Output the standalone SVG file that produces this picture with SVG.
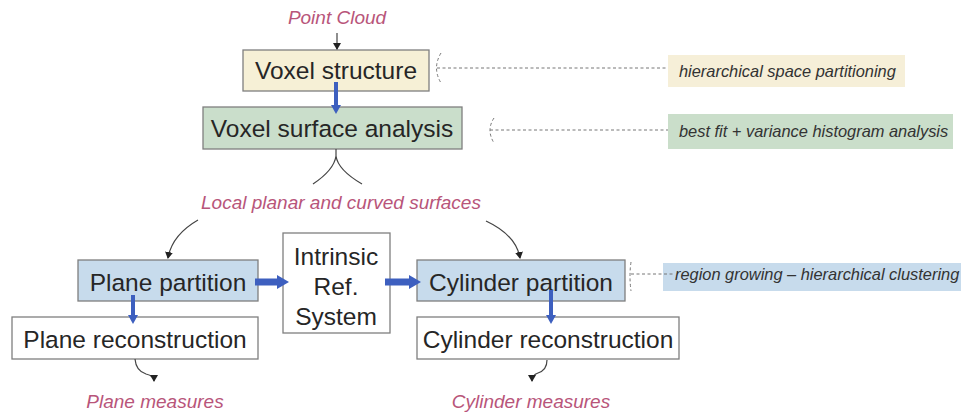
<svg xmlns="http://www.w3.org/2000/svg" width="961" height="416" viewBox="0 0 961 416">
<style>
.box{stroke:#7f7f7f;stroke-width:1.3}
.t{font-family:"Liberation Sans",Arial,sans-serif;font-size:24.5px;fill:#262626;text-anchor:middle}
.it{font-family:"Liberation Sans",Arial,sans-serif;font-style:italic;font-size:19px;fill:#b8557a;text-anchor:middle}
.note{font-family:"Liberation Sans",Arial,sans-serif;font-style:italic;font-size:16.4px;fill:#333}
.thin{fill:none;stroke:#444;stroke-width:1.2}
.blue{stroke:#3d5fbf;stroke-width:4;fill:none}
.bluethick{stroke:#3d5fbf;stroke-width:7;fill:none}
.dash{fill:none;stroke:#777;stroke-width:1;stroke-dasharray:3 2.5}
</style>
<defs>
<marker id="ah" markerWidth="8" markerHeight="8" refX="6" refY="4" orient="auto" markerUnits="userSpaceOnUse">
<path d="M0,0 L7,4 L0,8 z" fill="#222"/>
</marker>
<marker id="bh" markerWidth="10" markerHeight="10" refX="2" refY="5" orient="auto" markerUnits="userSpaceOnUse">
<path d="M0,0 L9,5 L0,10 z" fill="#3d5fbf"/>
</marker>
<marker id="bh2" markerWidth="14" markerHeight="14" refX="1" refY="7" orient="auto" markerUnits="userSpaceOnUse">
<path d="M0,0 L12,7 L0,14 z" fill="#3d5fbf"/>
</marker>
</defs>
<rect width="961" height="416" fill="#fff"/>

<g id="point-cloud"><text class="it" x="337" y="24">Point Cloud</text></g>

<g id="voxel-structure">
<rect class="box" x="243" y="50" width="186" height="41" fill="#f6f0d6"/>
<text class="t" x="336" y="79">Voxel structure</text>
</g>
<g id="voxel-surface">
<rect class="box" x="203" y="107" width="259" height="42" fill="#cadecb"/>
<text class="t" x="332" y="137">Voxel surface analysis</text>
</g>
<g id="local-surfaces"><text class="it" x="341" y="209">Local planar and curved surfaces</text></g>

<g id="plane-partition">
<rect class="box" x="78" y="260" width="180" height="41" fill="#c7dbec"/>
<text class="t" x="168" y="291">Plane partition</text>
</g>
<g id="intrinsic">
<rect class="box" x="283" y="233" width="107" height="100" fill="#fff"/>
<text class="t" x="336" y="265">Intrinsic</text>
<text class="t" x="336" y="295">Ref.</text>
<text class="t" x="336" y="325">System</text>
</g>
<g id="cylinder-partition">
<rect class="box" x="417" y="260" width="208" height="41" fill="#c7dbec"/>
<text class="t" x="521" y="291">Cylinder partition</text>
</g>
<g id="plane-reconstruction">
<rect class="box" x="12" y="317" width="246" height="42" fill="#fff"/>
<text class="t" x="135" y="348">Plane reconstruction</text>
</g>
<g id="cylinder-reconstruction">
<rect class="box" x="417" y="317" width="262" height="42" fill="#fff"/>
<text class="t" x="548" y="348">Cylinder reconstruction</text>
</g>
<g id="plane-measures"><text class="it" x="155" y="408">Plane measures</text></g>
<g id="cylinder-measures"><text class="it" x="531" y="408">Cylinder measures</text></g>

<g id="note-hierarchical">
<rect x="668" y="55" width="237" height="32" fill="#f6efd8"/>
<text class="note" x="679" y="77">hierarchical space partitioning</text>
</g>
<g id="note-bestfit">
<rect x="668" y="114" width="285" height="35" fill="#cadeca"/>
<text class="note" x="679" y="137">best fit + variance histogram analysis</text>
</g>
<g id="note-region">
<rect x="663" y="263" width="298" height="28" fill="#c7dbec"/>
<text class="note" x="675" y="280">region growing – hierarchical clustering</text>
</g>

<g id="connectors">
<line class="thin" x1="337" y1="33" x2="337" y2="49" marker-end="url(#ah)"/>
<line class="blue" x1="336" y1="82" x2="336" y2="107" marker-end="url(#bh)"/>
<path class="thin" d="M336,149 L336,156 Q334,170 313,184 M336,156 Q338,170 362,184"/>
<path class="thin" d="M198,220 Q172,235 168,258" marker-end="url(#ah)"/>
<path class="thin" d="M486,221 Q516,235 520,258" marker-end="url(#ah)"/>
<line class="bluethick" x1="255" y1="282" x2="278" y2="282" marker-end="url(#bh2)"/>
<line class="bluethick" x1="385" y1="282" x2="410" y2="282" marker-end="url(#bh2)"/>
<line class="blue" x1="133" y1="295" x2="133" y2="317" marker-end="url(#bh)"/>
<line class="blue" x1="551" y1="290" x2="551" y2="317" marker-end="url(#bh)"/>
<path class="thin" d="M135,359 Q136,371 146,374 Q154,376 154,381" marker-end="url(#ah)"/>
<path class="thin" d="M547,360 Q547,370 538,373 Q532,375 532,381" marker-end="url(#ah)"/>
<path class="dash" d="M441,53 Q432,68 441,83"/>
<line class="dash" x1="437" y1="68" x2="668" y2="68"/>
<path class="dash" d="M494,118 Q486,130 494,143"/>
<line class="dash" x1="490" y1="130" x2="668" y2="130"/>
<path class="dash" d="M631,262 Q629,276 631,291"/>
<line class="dash" x1="631" y1="274" x2="673" y2="274"/>
</g>
</svg>
